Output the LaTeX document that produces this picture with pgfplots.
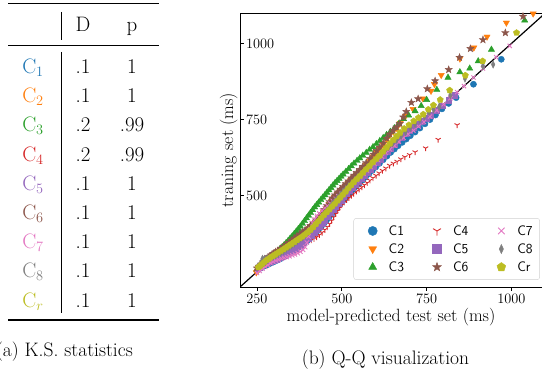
\documentclass[border=0pt]{standalone}
\usepackage{pgfplots}
\pgfplotsset{compat=1.18}
\definecolor{c1}{RGB}{31,119,180}
\definecolor{c2}{RGB}{255,127,14}
\definecolor{c3}{RGB}{44,160,44}
\definecolor{c4}{RGB}{214,39,40}
\definecolor{c5}{RGB}{148,103,189}
\definecolor{c6}{RGB}{140,86,75}
\definecolor{c7}{RGB}{227,119,194}
\definecolor{c8}{RGB}{127,127,127}
\definecolor{cr}{RGB}{188,189,34}
\pgfdeclareplotmark{fstar}{%
  \pgfpathmoveto{\pgfpointpolar{90}{\pgfplotmarksize}}%
  \pgfpathlineto{\pgfpointpolar{126}{0.42\pgfplotmarksize}}%
  \pgfpathlineto{\pgfpointpolar{162}{\pgfplotmarksize}}%
  \pgfpathlineto{\pgfpointpolar{198}{0.42\pgfplotmarksize}}%
  \pgfpathlineto{\pgfpointpolar{234}{\pgfplotmarksize}}%
  \pgfpathlineto{\pgfpointpolar{270}{0.42\pgfplotmarksize}}%
  \pgfpathlineto{\pgfpointpolar{306}{\pgfplotmarksize}}%
  \pgfpathlineto{\pgfpointpolar{342}{0.42\pgfplotmarksize}}%
  \pgfpathlineto{\pgfpointpolar{18}{\pgfplotmarksize}}%
  \pgfpathlineto{\pgfpointpolar{54}{0.42\pgfplotmarksize}}%
  \pgfpathclose\pgfusepathqfillstroke}
\pgfplotsset{
  sA/.style={only marks, color=c1, mark=*, mark size=3.1bp},
  sB/.style={only marks, color=c2, mark=triangle*, mark size=3.6bp, mark options={rotate=180}},
  sC/.style={only marks, color=c3, mark=triangle*, mark size=3.6bp},
  sD/.style={only marks, color=c4, mark=Mercedes star flipped, mark size=3.0bp, line width=0.9bp},
  sE/.style={only marks, color=c5, mark=square*, mark size=2.8bp},
  sF/.style={only marks, color=c6, mark=fstar, mark size=3.8bp},
  sG/.style={only marks, color=c7, mark=x, mark size=3.0bp, line width=0.9bp},
  sH/.style={only marks, color=c8, mark=diamond*, mark size=3.8bp, mark options={xscale=0.62}},
  sI/.style={only marks, color=cr, mark=pentagon*, mark size=3.3bp},
}
\begin{document}
\begin{tikzpicture}
\useasboundingbox (0bp,0bp) rectangle (542bp,374bp);
% ---------- table (a)
\draw[line width=1.1bp] (8bp,370.7bp) -- (158.5bp,370.7bp);
\draw[line width=0.8bp] (8bp,329bp) -- (158.5bp,329bp);
\draw[line width=1.1bp] (8bp,54bp) -- (158.5bp,54bp);
\draw[line width=0.7bp] (61bp,362bp) -- (61bp,334bp);
\draw[line width=0.7bp] (61bp,322bp) -- (61bp,61bp);
\begin{scope}[every node/.style={font=\fontsize{21}{24}\selectfont, inner sep=0pt, anchor=base}]
\node at (83bp,342bp) {D};
\node at (132bp,342bp) {p};
\node[text=c1] at (33bp,300.5bp) {C$_1$};
\node[text=c2] at (33bp,271.3bp) {C$_2$};
\node[text=c3] at (33bp,242.1bp) {C$_3$};
\node[text=c4] at (33bp,212.9bp) {C$_4$};
\node[text=c5] at (33bp,183.7bp) {C$_5$};
\node[text=c6] at (33bp,154.5bp) {C$_6$};
\node[text=c7] at (33bp,125.3bp) {C$_7$};
\node[text=c8] at (33bp,96.1bp) {C$_8$};
\node[text=cr] at (33bp,66.9bp) {C$_r$};
\node at (83bp,300.5bp) {.1};   \node at (132bp,300.5bp) {1};
\node at (83bp,271.3bp) {.1};   \node at (132bp,271.3bp) {1};
\node at (83bp,242.1bp) {.2};   \node at (132bp,242.1bp) {.99};
\node at (83bp,212.9bp) {.2};   \node at (132bp,212.9bp) {.99};
\node at (83bp,183.7bp) {.1};   \node at (132bp,183.7bp) {1};
\node at (83bp,154.5bp) {.1};   \node at (132bp,154.5bp) {1};
\node at (83bp,125.3bp) {.1};   \node at (132bp,125.3bp) {1};
\node at (83bp,96.1bp) {.1};    \node at (132bp,96.1bp) {1};
\node at (83bp,66.9bp) {.1};    \node at (132bp,66.9bp) {1};
\end{scope}
\node[font=\fontsize{19.6}{22}\selectfont, inner sep=0pt, anchor=base east] at (133bp,18bp) {(a) K.S. statistics};
\node[font=\fontsize{19.6}{22}\selectfont, inner sep=0pt, anchor=base] at (385.5bp,10bp) {(b) Q-Q visualization};
% ---------- Q-Q plot (b)
\begin{axis}[
  at={(240bp,87bp)}, anchor=south west,
  scale only axis, width=302bp, height=274bp,
  xmin=200, xmax=1090, ymin=200, ymax=1100,
  xtick={250,500,750,1000}, ytick={500,750,1000},
  /pgf/number format/1000 sep={},
  xtick pos=left, ytick pos=left,
  tick align=outside, major tick length=4bp,
  ytick style={xshift=4bp},
  tick style={black, line width=0.8bp},
  axis line style={black, line width=0.8bp},
  tick label style={font=\fontsize{15.5}{18}\selectfont},
  yticklabel style={anchor=west, xshift=6.5bp},
  xlabel={model-predicted test set (ms)},
  ylabel={traning set (ms)},
  every axis x label/.style={at={(rel axis cs:0.5,0)}, anchor=north, yshift=-18bp, font=\fontsize{17.8}{20}\selectfont},
  every axis y label/.style={at={(rel axis cs:0,0.5)}, rotate=90, anchor=south, yshift=-1bp, font=\fontsize{17.8}{20}\selectfont},
  legend style={at={(rel axis cs:0.993,0.026)}, anchor=south east, draw=black!18, rounded corners=2.5bp, fill=white,
    font=\fontsize{13.8}{15}\selectfont\sffamily, inner xsep=5bp, inner ysep=5bp, row sep=2.9bp,
    /tikz/every even column/.append style={column sep=17bp}},
  legend columns=3, legend cell align=left,
  legend image code/.code={\path[draw=none,fill=none] (0bp,-4bp) rectangle (28bp,4bp); \draw[sharp corners,#1] plot coordinates {(14bp,0bp)};},
  legend image post style={mark size=4.6bp},
]
\addplot[black, line width=1.2bp, no marks, forget plot] coordinates {(150,150)(1150,1150)};
% C1
\addplot[sA, forget plot] coordinates {(255,258)(262,263)(270,268)(278,272)(286,276)(294,280)(302,284)(310,288)(318,292)(326,297)(334,302)(342,307)(350,313)(358,319)(366,325)(374,331)(382,338)(390,345)(398,352)(406,360)(414,368)(422,377)(430,386)(438,396)(446,406)(454,417)(462,428)(470,439)(478,450)(486,461)(494,471)(502,481)(510,491)(518,501)(526,511)(534,521)(543,531)(552,541)(561,551)(570,561)(580,572)(590,583)(600,594)(611,606)(622,618)(633,630)(644,642)(655,653)(666,664)(678,675)(690,686)(702,697)(716,709)(730,722)(745,736)(760,750)(776,765)(795,785)(815,803)(837,822)(888,866)(970,948)};
% C2
\addplot[sB, forget plot] coordinates {(248,248)(254,256)(260,264)(266,272)(272,280)(278,287)(284,293)(290,299)(296,304)(303,309)(310,314)(318,320)(326,326)(334,332)(342,339)(350,345)(358,352)(366,358)(374,365)(382,372)(390,378)(398,385)(406,393)(414,402)(422,412)(430,422)(438,433)(446,445)(454,458)(462,471)(470,483)(478,494)(486,504)(494,513)(502,522)(510,531)(518,540)(526,550)(534,559)(543,568)(552,578)(562,589)(572,601)(582,614)(592,628)(602,642)(612,655)(622,668)(632,684)(642,700)(652,712)(662,722)(672,738)(688,762)(710,784)(739,819)(763,844)(773,866)(793,896)(848,950)(889,986)(928,1022)(985,1068)(1064,1098)};
% C3
\addplot[sC, forget plot] coordinates {(250,258)(255,263)(260,268)(265,272)(270,277)(276,283)(282,289)(288,295)(294,300)(300,306)(306,312)(312,318)(318,325)(324,331)(330,338)(336,345)(342,352)(348,360)(354,367)(360,375)(366,383)(372,391)(378,399)(384,408)(390,417)(396,426)(402,435)(408,444)(414,453)(420,462)(426,470)(432,478)(438,486)(444,494)(450,502)(456,510)(462,518)(468,526)(474,534)(480,542)(486,549)(492,556)(498,563)(504,570)(512,579)(520,588)(528,597)(536,606)(545,615)(553,623)(562,632)(572,641)(582,651)(592,660)(602,670)(612,680)(622,690)(632,700)(643,710)(655,722)(668,736)(682,752)(697,764)(716,778)(734,795)(750,815)(780,848)(813,888)(848,906)(877,918)(902,942)(941,980)(1039,1076)};
% C4
\addplot[sD, forget plot] coordinates {(250,252)(258,260)(266,268)(274,275)(282,282)(290,289)(298,295)(306,300)(314,305)(322,310)(330,314)(338,318)(346,322)(354,326)(362,330)(370,334)(378,338)(386,342)(394,346)(402,350)(410,354)(418,358)(426,364)(434,371)(442,379)(450,388)(457,397)(464,407)(470,418)(476,429)(482,440)(488,450)(494,460)(500,469)(507,478)(514,486)(521,493)(528,500)(535,507)(543,514)(551,521)(559,528)(567,535)(575,542)(583,550)(592,558)(601,566)(610,574)(620,582)(630,590)(641,599)(652,606)(663,612)(674,620)(686,627)(700,634)(716,643)(747,656)(784,684)(840,732)};
% C5
\addplot[sE, forget plot] coordinates {(252,262)(258,266)(264,270)(270,274)(276,277)(282,280)(290,284)(298,288)(306,292)(314,296)(322,300)(330,305)(338,310)(346,315)(354,320)(362,326)(370,332)(378,338)(386,345)(394,352)(402,360)(410,369)(418,378)(426,388)(434,398)(442,409)(450,420)(458,432)(466,444)(474,455)(482,466)(490,476)(498,486)(506,496)(514,506)(522,516)(530,526)(539,536)(548,546)(557,556)(566,566)(575,576)(584,586)(594,597)(604,608)(614,620)(624,632)(634,644)(644,656)(654,668)(665,680)(676,692)(688,704)(700,714)(712,724)(724,734)(736,744)(749,755)(761,765)(778,781)(795,796)(815,813)(833,830)};
% C6
\addplot[sF, forget plot] coordinates {(250,262)(256,268)(262,275)(268,282)(274,289)(280,295)(286,300)(292,305)(298,310)(305,315)(312,320)(320,326)(328,332)(336,339)(344,346)(352,353)(360,360)(368,367)(376,373)(384,380)(392,386)(400,393)(408,401)(416,410)(424,420)(432,430)(440,441)(448,454)(456,467)(464,480)(472,492)(480,502)(488,512)(496,521)(504,530)(512,539)(520,548)(528,558)(536,567)(544,576)(553,586)(562,596)(572,608)(583,622)(593,636)(603,648)(612,659)(622,672)(632,688)(641,702)(651,714)(661,725)(671,737)(681,758)(690,776)(705,806)(725,818)(752,851)(775,877)(815,914)(847,954)(879,983)(916,1012)(982,1035)(1034,1089)};
% C7
\addplot[sG, forget plot] coordinates {(250,246)(258,253)(266,260)(274,266)(282,272)(290,278)(298,283)(306,287)(314,290)(322,293)(330,296)(338,298)(346,301)(354,304)(362,307)(370,311)(378,316)(386,322)(392,331)(397,346)(402,366)(408,390)(414,410)(420,422)(427,434)(434,442)(442,451)(450,459)(458,466)(466,474)(474,482)(482,490)(490,498)(499,506)(508,515)(517,524)(526,533)(535,542)(544,551)(554,561)(564,572)(574,582)(585,594)(596,605)(607,617)(618,628)(630,640)(642,652)(655,664)(668,677)(682,690)(696,702)(711,714)(726,727)(742,742)(760,760)(780,780)(800,800)(820,820)(840,840)(860,860)(888,888)(916,918)(955,955)(995,992)};
% C8
\addplot[sH, forget plot] coordinates {(252,265)(260,275)(266,292)(272,292)(280,293)(288,296)(296,300)(304,304)(312,309)(320,314)(328,319)(336,325)(344,331)(352,337)(360,343)(368,350)(376,357)(384,364)(392,372)(400,380)(408,389)(416,398)(424,408)(432,418)(440,429)(448,440)(456,451)(464,462)(472,473)(480,483)(488,493)(496,503)(504,513)(512,522)(520,531)(529,541)(538,551)(547,561)(556,571)(566,582)(576,593)(586,604)(596,615)(606,626)(616,637)(627,648)(638,660)(650,672)(662,684)(675,697)(688,710)(702,723)(716,736)(730,750)(744,762)(757,775)(770,784)(787,792)(820,830)(863,885)(916,926)(946,931)};
% Cr
\addplot[sI, forget plot] coordinates {(254,265)(260,270)(266,276)(272,282)(278,288)(284,292)(290,297)(297,302)(304,307)(312,313)(320,318)(328,324)(336,330)(344,336)(352,342)(360,348)(368,354)(376,360)(384,366)(392,373)(400,380)(408,388)(416,397)(424,407)(432,417)(440,427)(448,437)(456,446)(464,455)(472,465)(480,474)(488,484)(496,494)(504,504)(512,514)(520,525)(528,535)(536,545)(545,555)(554,565)(563,576)(572,587)(582,598)(592,610)(602,621)(612,632)(622,645)(632,658)(642,671)(652,683)(662,695)(672,707)(684,720)(698,732)(712,745)(726,756)(740,767)(755,783)(770,797)(790,815)(818,846)(864,895)(915,942)(1015,1035)};
% legend in column-major order
\addlegendimage{sA}\addlegendentry{C1}
\addlegendimage{sD}\addlegendentry{C4}
\addlegendimage{sG}\addlegendentry{C7}
\addlegendimage{sB}\addlegendentry{C2}
\addlegendimage{sE}\addlegendentry{C5}
\addlegendimage{sH}\addlegendentry{C8}
\addlegendimage{sC}\addlegendentry{C3}
\addlegendimage{sF}\addlegendentry{C6}
\addlegendimage{sI}\addlegendentry{Cr}
\end{axis}
\end{tikzpicture}
\end{document}
